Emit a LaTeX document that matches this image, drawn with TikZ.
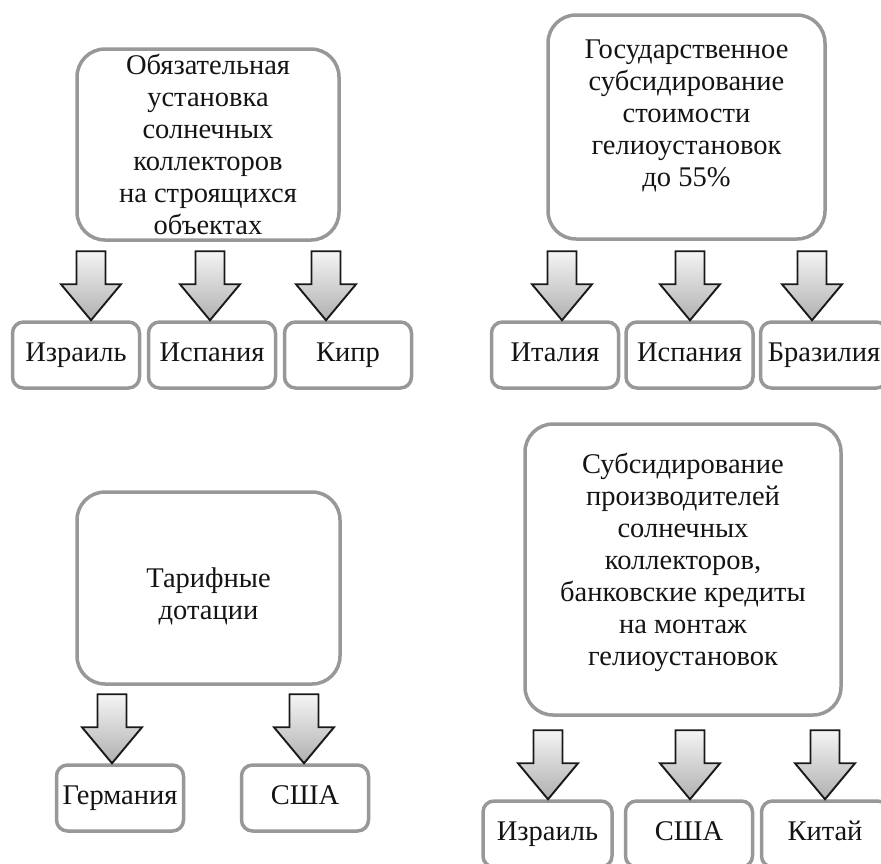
\documentclass[tikz,border=0pt]{standalone}
\usepackage{fontspec}
\setmainfont{Liberation Serif}

\definecolor{boxgray}{RGB}{152,152,152}
\definecolor{ink}{RGB}{20,20,20}

\tikzset{
  smallbox/.style={draw=boxgray, line width=3.5pt, rounded corners=11pt, fill=white,
    minimum width=127pt, minimum height=66pt, inner sep=0pt,
    text height=19pt, text depth=6pt, text=ink, font=\fontsize{28.5pt}{32pt}\selectfont},
  bigbox/.style={draw=boxgray, line width=3.5pt, rounded corners=28pt},
  bigtext/.style={align=center, text=ink, font=\fontsize{28.5pt}{32pt}\selectfont},
  downarrow/.pic={
    \shade[top color=gray!8, bottom color=gray!62, draw=black!90, line width=1.9pt, line join=miter]
      (0,0) -- (-30,-36) -- (-14.5,-36) -- (-14.5,-69) -- (14.5,-69) -- (14.5,-36) -- (30,-36) -- cycle;
  }
}

\begin{document}
\begin{tikzpicture}[x=1pt, y=-1pt, node distance=136pt]
\useasboundingbox (0,0) rectangle (881,863);
\clip (0,0) rectangle (881,863);

% top left
\node[bigbox, minimum width=262pt, minimum height=191pt] (oblig) at (208,144.5) {};
\node[bigtext] at (oblig.center) {Обязательная\\установка\\солнечных\\коллекторов\\на строящихся\\объектах};
\node[smallbox] (isr1) at (76,355) {Израиль};
\node[smallbox] (spa1) [right of=isr1] {Испания};
\node[smallbox] (cyp) [right of=spa1] {Кипр};
\pic at (91,0 |- isr1.north) {downarrow};
\pic at (210,0 |- spa1.north) {downarrow};
\pic at (326,0 |- cyp.north) {downarrow};

% top right
\node[bigbox, minimum width=277pt, minimum height=224pt] (gov) at (686.5,127) {};
\node[bigtext] at ([yshift=11pt]gov.center) {Государственное\\субсидирование\\стоимости\\гелиоустановок\\до 55\%};
\node[smallbox] (ita) at (555,355) {Италия};
\node[smallbox, node distance=134.5pt] (spa2) [right of=ita] {Испания};
\node[smallbox, node distance=134.5pt] (bra) [right of=spa2] {Бразилия};
\pic at (562,0 |- ita.north) {downarrow};
\pic at (690,0 |- spa2.north) {downarrow};
\pic at (812,0 |- bra.north) {downarrow};

% bottom left
\node[bigbox, minimum width=263pt, minimum height=192pt] (tarif) at (208.5,588) {};
\node[bigtext] at ([yshift=-8pt]tarif.center) {Тарифные\\дотации};
\node[smallbox] (ger) at (120,798) {Германия};
\node[smallbox, node distance=185pt] (usa1) [right of=ger] {США};
\pic at (112,0 |- ger.north) {downarrow};
\pic at (304,0 |- usa1.north) {downarrow};

% bottom right
\node[bigbox, minimum width=316pt, minimum height=291pt] (prod) at (683,569.5) {};
\node[bigtext] at ([yshift=7pt]prod.center) {Субсидирование\\производителей\\солнечных\\коллекторов,\\банковские кредиты\\на монтаж\\гелиоустановок};
\node[smallbox, minimum width=129pt] (isr2) at (547.5,834) {Израиль};
\node[smallbox, node distance=141.5pt] (usa2) [right of=isr2] {США};
\node[smallbox] (chn) [right of=usa2] {Китай};
\pic at (548,0 |- isr2.north) {downarrow};
\pic at (690,0 |- usa2.north) {downarrow};
\pic at (825,0 |- chn.north) {downarrow};
\end{tikzpicture}
\end{document}
